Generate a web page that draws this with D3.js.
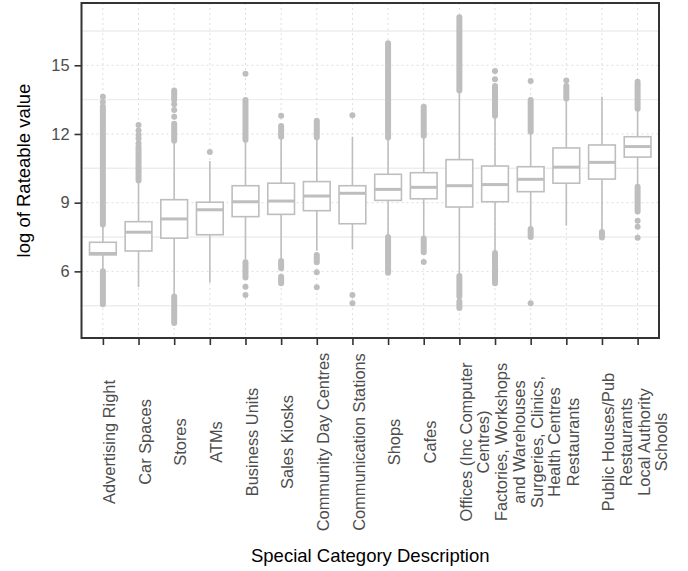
<!DOCTYPE html>
<html>
<head>
<meta charset="utf-8">
<script src="https://cdn.jsdelivr.net/npm/d3@7"></script>
<style>
  html, body { margin: 0; padding: 0; background: #fff; }
  svg { display: block; font-family: "Liberation Sans", Arial, Helvetica, sans-serif; }
</style>
</head>
<body>
<div id="chart"></div>
<script>
// Kategorien (Zeilen im Label mit \n getrennt)
const categories = [
  'Advertising Right', 'Car Spaces', 'Stores', 'ATMs', 'Business Units',
  'Sales Kiosks', 'Community Day Centres', 'Communication Stations', 'Shops',
  'Cafes', 'Offices (Inc Computer\nCentres)', 'Factories, Workshops\nand Warehouses',
  'Surgeries, Clinics,\nHealth Centres', 'Restaurants',
  'Public Houses/Pub\nRestaurants', 'Local Authority\nSchools'
];

// Boxplot-Kennwerte: unteres Whisker-Ende, Q1, Median, Q3, oberes Whisker-Ende
const whiskerLow  = [6.06, 5.31, 4.97, 5.51, 6.45, 6.50, 6.90, 6.97, 7.59, 7.49, 5.84, 6.86, 7.95, 8.00, 7.78, 9.76];
const q1          = [6.72, 6.89, 7.45, 7.60, 8.39, 8.49, 8.65, 8.08, 9.10, 9.17, 8.81, 9.04, 9.48, 9.85, 10.03, 10.99];
const median      = [6.78, 7.71, 8.29, 8.69, 9.04, 9.07, 9.29, 9.41, 9.58, 9.67, 9.74, 9.79, 10.02, 10.55, 10.76, 11.45];
const q3          = [7.27, 8.17, 9.13, 9.02, 9.74, 9.85, 9.92, 9.74, 10.24, 10.31, 10.88, 10.60, 10.57, 11.39, 11.52, 11.88];
const whiskerHigh = [7.98, 9.92, 11.66, 10.82, 11.71, 11.81, 11.81, 11.88, 11.81, 11.88, 13.85, 12.76, 12.06, 13.48, 13.63, 13.05];

// dichte Ausreißer-Bereiche [von, bis] (Punkte überlappen zu einer Säule)
const outlierRuns = [
  [[8.05, 13.2], [4.56, 6.0]],
  [[9.97, 11.45]],
  [[11.7, 12.45], [13.6, 13.9], [3.75, 4.9]],
  [],
  [[11.75, 13.48], [5.73, 6.4]],
  [[11.88, 12.35], [6.14, 6.45], [5.48, 5.77]],
  [[11.86, 12.58], [6.4, 6.72]],
  [],
  [[11.85, 15.96], [5.94, 7.5]],
  [[11.92, 13.19], [6.83, 7.44]],
  [[13.9, 17.1], [4.9, 5.8], [4.4, 4.68]],
  [[12.8, 14.1], [5.48, 6.8]],
  [[12.1, 13.48], [7.5, 7.85]],
  [[13.55, 14.1]],
  [[7.48, 7.72]],
  [[13.1, 14.28], [8.61, 9.7]]
];

// einzelne Ausreißer
const outlierPoints = [
  [13.4, 13.63],
  [11.6, 11.8, 11.95, 12.15, 12.39],
  [12.75, 13.05, 13.3, 13.5],
  [11.21],
  [14.63, 5.33, 4.97],
  [12.8],
  [5.96, 5.31],
  [12.82, 4.97, 4.61],
  [],
  [6.41],
  [],
  [14.39, 14.75],
  [14.31, 4.61],
  [14.33],
  [],
  [8.21, 7.95, 7.47]
];

const yTicks = [6, 9, 12, 15];
const yMinor = [4.5, 7.5, 10.5, 13.5, 16.5];

const W = 688, H = 571;
const P = { left: 81.5, right: 659, top: 3, bottom: 338 };
const boxColor = '#bebebe';
const labelSize = 16.4;

const svg = d3.select('#chart').append('svg')
  .attr('width', W).attr('height', H);

const x = d3.scalePoint()
  .domain(d3.range(categories.length))
  .range([P.left, P.right])
  .padding(0.6);
const y = d3.scaleLinear().domain([3.09, 17.72]).range([P.bottom, P.top]);
const bw = x.step() * 0.75;

// ---- Gitter ----
const gGrid = svg.append('g').attr('class', 'grid');
gGrid.selectAll('line.minor').data(yMinor).join('line')
  .attr('class', 'minor')
  .attr('x1', P.left).attr('x2', P.right)
  .attr('y1', d => y(d)).attr('y2', d => y(d))
  .attr('stroke', '#ededed').attr('stroke-width', 1.4);
gGrid.selectAll('line.major-y').data(yTicks).join('line')
  .attr('class', 'major-y')
  .attr('x1', P.left).attr('x2', P.right)
  .attr('y1', d => y(d)).attr('y2', d => y(d))
  .attr('stroke', '#dedede').attr('stroke-width', 1).attr('stroke-dasharray', '2,3');
gGrid.selectAll('line.major-x').data(x.domain()).join('line')
  .attr('class', 'major-x')
  .attr('x1', d => x(d)).attr('x2', d => x(d))
  .attr('y1', P.top).attr('y2', P.bottom)
  .attr('stroke', '#dedede').attr('stroke-width', 1).attr('stroke-dasharray', '2,3');

// ---- Boxplots ----
const gBox = svg.append('g').attr('class', 'boxes');
const idx = d3.range(categories.length);

// Ausreißer
idx.forEach(i => {
  gBox.selectAll(null).data(outlierRuns[i]).join('line')
    .attr('x1', x(i)).attr('x2', x(i))
    .attr('y1', d => y(d[0])).attr('y2', d => y(d[1]))
    .attr('stroke', boxColor).attr('stroke-width', 6).attr('stroke-linecap', 'round');
  gBox.selectAll(null).data(outlierPoints[i]).join('circle')
    .attr('cx', x(i)).attr('cy', d => y(d)).attr('r', 3)
    .attr('fill', boxColor);
});

// Whisker
gBox.selectAll('line.wlo').data(idx).join('line')
  .attr('class', 'wlo')
  .attr('x1', d => x(d)).attr('x2', d => x(d))
  .attr('y1', d => y(whiskerLow[d])).attr('y2', d => y(q1[d]))
  .attr('stroke', boxColor).attr('stroke-width', 1.6);
gBox.selectAll('line.whi').data(idx).join('line')
  .attr('class', 'whi')
  .attr('x1', d => x(d)).attr('x2', d => x(d))
  .attr('y1', d => y(q3[d])).attr('y2', d => y(whiskerHigh[d]))
  .attr('stroke', boxColor).attr('stroke-width', 1.6);

// Box
gBox.selectAll('rect.box').data(idx).join('rect')
  .attr('class', 'box')
  .attr('x', d => x(d) - bw / 2).attr('width', bw)
  .attr('y', d => y(q3[d])).attr('height', d => y(q1[d]) - y(q3[d]))
  .attr('fill', '#fff').attr('stroke', boxColor).attr('stroke-width', 1.6);
gBox.selectAll('line.med').data(idx).join('line')
  .attr('class', 'med')
  .attr('x1', d => x(d) - bw / 2).attr('x2', d => x(d) + bw / 2)
  .attr('y1', d => y(median[d])).attr('y2', d => y(median[d]))
  .attr('stroke', boxColor).attr('stroke-width', 3);

// ---- Rahmen ----
svg.append('rect')
  .attr('x', P.left).attr('y', P.top)
  .attr('width', P.right - P.left).attr('height', P.bottom - P.top)
  .attr('fill', 'none').attr('stroke', '#333333').attr('stroke-width', 2);

// ---- Achsen ----
const yAxis = d3.axisLeft(y).tickValues(yTicks).tickSize(7).tickPadding(5).tickFormat(d3.format('d'));
svg.append('g')
  .attr('transform', `translate(${P.left},0)`)
  .call(yAxis)
  .call(g => {
    g.select('.domain').remove();
    g.selectAll('.tick line').attr('stroke', '#333333').attr('stroke-width', 1.6);
    g.selectAll('.tick text')
      .attr('fill', '#4d4d4d')
      .attr('font-size', labelSize)
      .attr('font-family', '"Liberation Sans", Arial, sans-serif');
  });

const labelCenter = 442; // Mitte des Label-Bereichs (y)
const xAxis = d3.axisBottom(x).tickSize(7).tickFormat('');
svg.append('g')
  .attr('transform', `translate(0,${P.bottom})`)
  .call(xAxis)
  .call(g => {
    g.select('.domain').remove();
    g.selectAll('.tick line').attr('stroke', '#333333').attr('stroke-width', 1.6);
    g.selectAll('.tick text').remove();
    g.selectAll('.tick').each(function (d) {
      const lines = categories[d].split('\n');
      const t = d3.select(this).append('text')
        .attr('transform', `translate(0,${labelCenter - P.bottom}) rotate(-90)`)
        .attr('text-anchor', 'middle')
        .attr('fill', '#4d4d4d')
        .attr('font-size', labelSize)
        .attr('font-family', '"Liberation Sans", Arial, sans-serif');
      lines.forEach((ln, k) => {
        t.append('tspan').attr('x', 0).attr('y', 11.7 + k * 17.5).text(ln);
      });
    });
  });

// ---- Achsentitel ----
svg.append('text')
  .attr('x', (P.left + P.right) / 2).attr('y', 561.5)
  .attr('text-anchor', 'middle')
  .attr('font-size', 18.5)
  .attr('fill', '#000')
  .text('Special Category Description');

svg.append('text')
  .attr('transform', `translate(30,${(P.top + P.bottom) / 2}) rotate(-90)`)
  .attr('text-anchor', 'middle')
  .attr('font-size', 18.5)
  .attr('fill', '#000')
  .text('log of Rateable value');
</script>
</body>
</html>
